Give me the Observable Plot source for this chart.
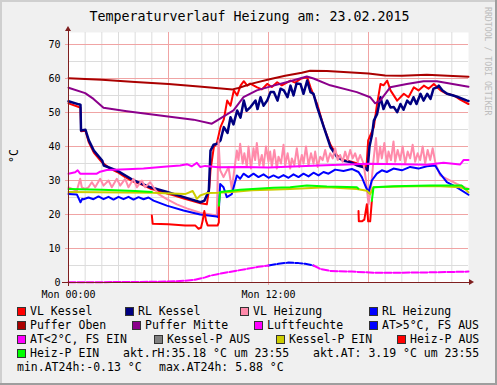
<!DOCTYPE html>
<html><head><meta charset="utf-8">
<script src="https://cdn.jsdelivr.net/npm/d3@7"></script>
<script src="https://cdn.jsdelivr.net/npm/@observablehq/plot@0.6"></script>
<style>
body{margin:0;background:#f0f0f0;}
#c{position:relative;width:497px;height:385px;background:#f0f0f0;overflow:hidden;}
#c svg{position:absolute;left:0;top:0;}
</style></head><body><div id="c"></div>
<script>
// ---- data (hour of day, °C) ----
const vlKessel = [[0,52.7],[0.62,51.6],[0.72,51.4],[0.76,44.5],[1.02,44.6],[1.22,41.2],[1.52,38.2],[2.02,35.3],[2.5,33.5],[2.92,32.5],[3.4,31],[3.92,29.6],[4.4,28.8],[4.92,27.6],[5.4,27],[5.92,26.2],[6.4,25.5],[6.92,24.7],[7.4,24],[7.92,23.3],[8.3,23],[8.45,28],[8.52,33],[8.72,39.8],[8.9,41],[9.12,45.7],[9.32,48],[9.52,53.5],[9.72,52],[9.92,56.5],[10.12,55],[10.32,57.9],[10.52,59.2],[10.72,57.9],[10.9,58.5],[11.32,57.4],[11.6,56.8],[11.92,58.4],[12.2,57.5],[12.52,58.9],[12.8,58],[13.32,59.4],[13.6,58.8],[13.92,59.9],[14.32,60.4],[14.52,57.4],[14.92,52.5],[15.32,45.7],[15.72,40.5],[16.12,37.3],[16.5,36],[16.92,35.6],[17.34,35],[17.72,34.4],[17.88,34],[17.98,41.8],[18.32,45.7],[18.5,52],[18.72,58.4],[18.9,58],[19.12,59.4],[19.32,56.5],[19.72,53.5],[20.12,55.5],[20.4,54.5],[20.72,57.4],[21.0,56.5],[21.32,57.9],[21.6,57],[21.92,58.4],[22.32,56.5],[22.7,55.5],[23.12,55],[23.5,53.8],[24,52.5]];
const rlKessel = [[0,53.3],[0.62,52.4],[0.72,52.3],[0.75,44.7],[1.02,44.9],[1.22,41.8],[1.52,38.8],[2.02,35.9],[2.12,34.4],[2.92,32.9],[3.92,30.0],[4.92,28.0],[5.92,26.6],[6.92,25.1],[7.92,23.6],[8.16,24.1],[8.42,27],[8.52,38.8],[8.7,40.5],[8.92,40.8],[9.12,41.8],[9.32,45.7],[9.54,44],[9.72,48.6],[9.9,46.5],[10.12,50.6],[10.32,48.5],[10.52,53.5],[10.68,50.5],[10.92,51.6],[11.22,53.5],[11.34,51],[11.52,54.5],[11.7,52],[11.92,53.5],[12.12,56],[12.32,56],[12.54,53.5],[12.72,57],[12.92,56.5],[13.14,54.5],[13.32,57.9],[13.5,55],[13.68,58.5],[13.92,58.4],[14.1,55.5],[14.32,59.4],[14.52,56],[14.7,55.5],[14.92,51.6],[15.32,45.7],[15.72,39.8],[16.12,36.9],[16.5,35.8],[16.92,35.4],[17.34,34.4],[17.72,33.9],[17.94,33],[18.06,40],[18.22,43.7],[18.32,47.6],[18.52,49.6],[18.72,54.5],[18.9,51],[19.12,53.5],[19.32,51.5],[19.52,51.6],[19.72,50.1],[19.92,52.5],[20.1,50.8],[20.32,53.5],[20.52,52.5],[20.7,54.5],[20.88,52.5],[21.12,55.5],[21.3,53.5],[21.52,55.5],[21.72,54],[21.9,57],[22.12,57.4],[22.22,57.9],[22.44,56.5],[22.72,55.5],[23.28,54.7],[23.92,53.5],[24,53.4]];
const vlHeizung = [[0,28],[0.5,27],[0.7,30.5],[0.8,28],[1.0,27.5],[1.2,28],[1.4,29.5],[1.6,28],[1.9,30.5],[2.1,28.5],[2.4,30],[2.6,28],[2.9,30.5],[3.1,28.5],[3.4,30.5],[3.6,28],[3.9,30.5],[4.1,28],[4.4,30],[4.6,28],[4.9,29.5],[5.1,28],[5.4,26],[5.9,24.5],[6.5,23],[7.1,21.8],[7.9,20.5],[8.9,19.7],[9.0,41.8],[9.1,33],[9.3,31],[9.6,33.9],[9.8,27.5],[10.1,38.8],[10.2,36],[10.3,40.8],[10.45,35],[10.55,38],[10.7,34],[10.8,40],[10.95,33.5],[11.1,39.5],[11.2,36],[11.3,41],[11.45,34.5],[11.6,37.5],[11.7,34],[11.85,40],[12.0,35.5],[12.1,38.5],[12.2,34],[12.35,39],[12.5,33.5],[12.6,37],[12.75,35],[12.9,40.5],[13.0,34.5],[13.15,38],[13.3,33.5],[13.4,36.5],[13.55,34.5],[13.7,39.5],[13.85,34],[14.0,37.5],[14.1,35],[14.25,40],[14.4,34.5],[14.55,38],[14.7,35],[14.8,38.5],[14.95,34],[15.1,37],[15.25,36],[15.4,39],[15.55,35.5],[15.7,38],[15.85,36.5],[16.0,39.5],[16.15,36],[16.3,37.5],[16.45,35.5],[16.6,38.5],[16.75,36],[16.9,39],[17.05,36.5],[17.2,38],[17.35,35.5],[17.5,37.5],[17.7,35],[17.85,30],[18.0,23],[18.15,28],[18.3,36],[18.45,42.5],[18.55,35],[18.7,40],[18.8,36.5],[18.95,41],[19.1,35],[19.2,38.5],[19.35,36],[19.5,41.5],[19.6,35.5],[19.75,39],[19.9,36],[20.05,40],[20.2,35],[20.35,38.5],[20.5,36.5],[20.65,40.5],[20.8,35.5],[20.95,38],[21.1,36],[21.25,40],[21.4,35],[21.55,39],[21.7,36],[21.85,39.5],[22.0,35.5],[22.1,34],[22.3,31.5],[22.7,30.5],[23.3,29],[24,27.5]];
const rlHeizung = [[0,26],[0.5,25.9],[0.72,23.6],[0.82,24.6],[0.9,24.5],[1.2,25],[1.5,24.5],[1.8,25.3],[2.1,24.5],[2.4,25.2],[2.7,24.4],[3.0,25.2],[3.3,24.5],[3.6,25.2],[3.9,24.4],[4.2,25.1],[4.5,24.5],[4.8,25],[5.1,24.1],[5.9,22.6],[6.9,21.2],[7.9,20],[8.9,19.4],[9.0,19.2],[9.1,29],[9.3,28],[9.5,25.1],[9.8,26],[10.1,31.5],[10.3,30.5],[10.5,32],[10.8,31],[11.1,32],[11.4,31],[11.7,31.8],[12.0,30.8],[12.3,31.5],[12.6,30.8],[12.9,31.6],[13.2,30.8],[13.5,31.8],[13.8,31],[14.1,32],[14.4,31.2],[14.7,32.3],[15.0,31.5],[15.3,32.5],[15.6,32],[16.0,33.2],[16.5,32.8],[17.0,33.4],[17.4,32.5],[17.6,31],[17.85,28],[18.0,26.5],[18.2,30],[18.5,32],[18.8,33],[19.1,32.5],[19.5,33.5],[20.0,33],[20.5,34],[21.0,33.5],[21.5,34.2],[22.0,34.4],[22.3,32],[22.7,29.5],[23.3,28],[24,25.8]];
const pufferOben = [[0,60.1],[2,59.6],[4,59],[6,58.4],[8,57.6],[9.84,56.8],[10.2,57.2],[11,58.5],[12,59.7],[13,60.8],[14,61.7],[14.5,62.3],[15.5,62.2],[17,61.8],[18,61.5],[19,60.9],[20,60.8],[21.5,61.1],[24,60.5]];
const pufferMitte = [[0,57.3],[1.0,55.7],[1.5,54],[2.1,51.4],[3.5,50.4],[5.5,49.1],[7.5,47.9],[8.6,46.7],[8.9,47.6],[9.9,50.6],[10.5,54.5],[11.3,56.5],[12.3,57.9],[13.3,59.2],[14.3,60.6],[14.7,60],[15.7,58],[17.3,56],[18.1,54.5],[18.4,52.7],[18.7,53.5],[19.3,57.4],[20.3,58.4],[21.3,59.2],[22.1,59.2],[24,57.6]];
const luftfeuchte = [[0,32],[0.4,32.4],[0.55,33],[0.7,32],[1.7,32],[1.9,32.6],[2.3,33.1],[3.5,33.3],[4.5,33.5],[5.9,34.1],[6.7,34.4],[7.1,34.8],[7.4,34.2],[7.7,35.2],[7.9,34],[8.2,34.3],[9,33.9],[10.5,34],[12,33.8],[15,34.4],[18,34.9],[20,34.8],[21.5,34.6],[22.5,35.2],[23.5,34.7],[23.7,36],[24,36]];
const atHigh = [[12.0,5.0],[12.6,5.5],[13.2,5.85],[13.8,5.7],[14.2,5.5],[14.7,5.0]];
const atLow = [[0,0.1],[2,0.1],[4,0.15],[6,0.3],[7,0.5],[7.6,0.8],[8.2,1.5],[8.5,2.0],[9.3,2.8],[10.0,3.4],[10.7,4.0],[11.4,4.6],[12.0,5.0],[null,null],[14.7,5.0],[15.1,4.0],[15.7,3.4],[17,3.2],[18.3,2.9],[20,2.9],[22,3.0],[24,3.2]];
const kesselPAus = [];
const kesselPEin = [[0,26.6],[5,26.4],[7.0,26],[7.45,26.9],[7.6,25.6],[7.7,24.6],[7.9,25.6],[8.3,26.3],[9.0,26.4],[10,26.7],[11,27.1],[12,27.3],[13.3,27.5],[15.5,28],[17.3,27.5],[17.9,27],[18.1,26],[18.3,28],[20,28.2],[22,28.4],[23.5,28],[23.8,27.5],[24,26.5]];
const heizPAus = [[5.0,19.7],[5.05,17.3],[6,17.1],[7,16.8],[7.6,16.8],[7.8,15.8],[7.95,16.1],[8.05,18.2],[8.15,21],[8.25,18.2],[8.35,16.8],[8.95,16.8],[9.02,17.7],[9.03,23],[null,null],[17.4,21],[17.42,18],[17.6,18],[17.75,18.5],[17.9,23],[17.98,18],[18.1,18],[18.2,24]];
const heizPEin = [[0,27.5],[2,27.3],[4,26.9],[5.0,26.6],[null,null],[9.02,22.6],[9.1,26.6],[10.3,27.3],[12.3,27.9],[13.3,28],[14.3,28.5],[15.5,28.2],[17.3,28],[17.4,27.6],[null,null],[18.2,24],[18.3,28],[19.5,28.3],[21.7,28.5],[23.6,28.5],[23.8,27.5],[24,27.5]];

const xTickHours = [0, 12];
const xTickLabels = ["Mon 00:00", "Mon 12:00"];
const yTicks = [0, 10, 20, 30, 40, 50, 60, 70];

const title = "Temperaturverlauf Heizung am: 23.02.2015";
const legendRows = [
  [["VL Kessel","#ff0000"],["RL Kessel","#000080"],["VL Heizung","#ff8aaa"],["RL Heizung","#0000ff"]],
  [["Puffer Oben","#aa0000"],["Puffer Mitte","#8b008b"],["Luftfeuchte","#ff00ff"],["AT>5°C, FS AUS","#0000ff"]],
  [["AT<2°C, FS EIN","#ff00ff"],["Kessel-P AUS","#808080"],["Kessel-P EIN","#cccc00"],["Heiz-P AUS","#ff0000"]],
  [["Heiz-P EIN","#00ff00"],["akt.rH:35.18 °C um 23:55",null],["akt.AT: 3.19 °C um 23:55",null]],
  [["min.AT24h:-0.13 °C",null],["max.AT24h: 5.88 °C",null]]
];
const legendX = [[30,138,253,382],[30,145,267,382],[30,167,289,410],[30,123,313],[17,159]];

// ---- build ----
const T0 = Date.UTC(2015, 1, 23);
const toDate = h => new Date(T0 + h * 3600e3);
const rows = pairs => pairs.map(([h, v]) => ({t: h == null ? null : toDate(h), v}));
const lineFor = (pairs, color, w = 2, extra = {}) =>
  Plot.line(rows(pairs).map((d, i, a) => d.t == null ? {t: a[i-1].t, v: null} : d),
    {x: "t", y: "v", stroke: color, strokeWidth: w, ...extra});

const axisColor = "#7f1f1f";
const minorGrid = "#dcdcdc";
const majorGrid = "#f0a4a4";

const chart = Plot.plot({
  width: 497, height: 385,
  marginLeft: 68, marginRight: 29, marginTop: 32, marginBottom: 103,
  x: {type: "utc", domain: [toDate(0), toDate(24)]},
  y: {domain: [0, 73.53]},
  style: {background: "transparent", fontFamily: "'DejaVu Sans Mono', monospace", fontSize: "10px", color: "#000", overflow: "visible"},
  marks: [
    Plot.frame({fill: "#ffffff", stroke: null}),
    Plot.ruleX(d3.range(1, 24).filter(h => h % 6).map(toDate), {stroke: minorGrid}),
    Plot.ruleY(d3.range(5, 70, 10), {stroke: minorGrid}),
    Plot.ruleX([6, 12, 18].map(toDate), {stroke: majorGrid}),
    Plot.ruleY(d3.range(10, 71, 10), {stroke: majorGrid, insetLeft: -3}),
    lineFor(vlKessel, "#ff0000"),
    lineFor(rlKessel, "#000080", 2.5),
    lineFor(vlHeizung, "#ff8aaa"),
    lineFor(rlHeizung, "#0000ff"),
    lineFor(pufferOben, "#aa0000"),
    lineFor(pufferMitte, "#8b008b"),
    lineFor(luftfeuchte, "#ff00ff"),
    lineFor(atHigh, "#0000ff", 2, {strokeDasharray: "7,2"}),
    lineFor(atLow, "#ff00ff", 2, {strokeDasharray: "7,2"}),
    lineFor(kesselPEin, "#cccc00"),
    lineFor(heizPAus, "#ff0000"),
    lineFor(heizPEin, "#00ff00"),
    Plot.axisY({ticks: yTicks, tickSize: 3, tickPadding: 5, stroke: majorGrid, fill: "#000", label: null}),
    Plot.axisX({ticks: xTickHours.map(toDate), tickFormat: (d, i) => xTickLabels[i], tickSize: 3, tickPadding: 5, stroke: majorGrid, fill: "#000", label: null}),
    Plot.ruleY([0], {stroke: axisColor, insetLeft: -6, insetRight: -2}),
    Plot.ruleX([toDate(0)], {stroke: axisColor, insetTop: -2, insetBottom: -4})
  ]
});
document.getElementById("c").appendChild(chart);

// arrowheads via scales
const sx = chart.scale("x"), sy = chart.scale("y");
const xr = sx.apply(toDate(24)), y0 = sy.apply(0), x0 = sx.apply(toDate(0)), yt = sy.apply(73.53);
const s = d3.select(chart);
s.append("path").attr("d", `M${xr+6},${y0}L${xr+1},${y0-3}L${xr+1},${y0+3}Z`).attr("fill", axisColor);
s.append("path").attr("d", `M${x0},${yt-6}L${x0-3},${yt-1}L${x0+3},${yt-1}Z`).attr("fill", axisColor);

// overlay: frame, title, labels, legend
const ov = d3.select("#c").append("svg").attr("width", 497).attr("height", 385)
  .style("font-family", "'DejaVu Sans Mono', monospace");
ov.append("path").attr("d", "M0,385V0H497").attr("fill", "none").attr("stroke", "#cfcfcf").attr("stroke-width", 4);
ov.append("path").attr("d", "M0,385H497V0").attr("fill", "none").attr("stroke", "#9e9e9e").attr("stroke-width", 4);
ov.append("text").attr("x", 249.5).attr("y", 21).attr("text-anchor", "middle").attr("font-size", 13.3).text(title);
ov.append("text").attr("transform", "translate(18,156) rotate(-90)").attr("text-anchor", "middle").attr("font-size", 11.5).text("°C");
ov.append("text").attr("transform", "translate(485,7) rotate(90)").attr("font-size", 8.2).attr("fill", "#bdbdbd").text("RRDTOOL / TOBI OETIKER");
legendRows.forEach((row, r) => {
  const base = 315 + r * 14;
  row.forEach(([label, color], i) => {
    const tx = legendX[r][i];
    if (color) {
      ov.append("rect").attr("x", tx - 12.5).attr("y", base - 7.5).attr("width", 8).attr("height", 8)
        .attr("fill", color).attr("stroke", "#333").attr("stroke-width", 1);
    }
    ov.append("text").attr("x", tx).attr("y", base).attr("font-size", 11.5).attr("xml:space", "preserve").style("white-space", "pre").text(label);
  });
});
</script></body></html>
